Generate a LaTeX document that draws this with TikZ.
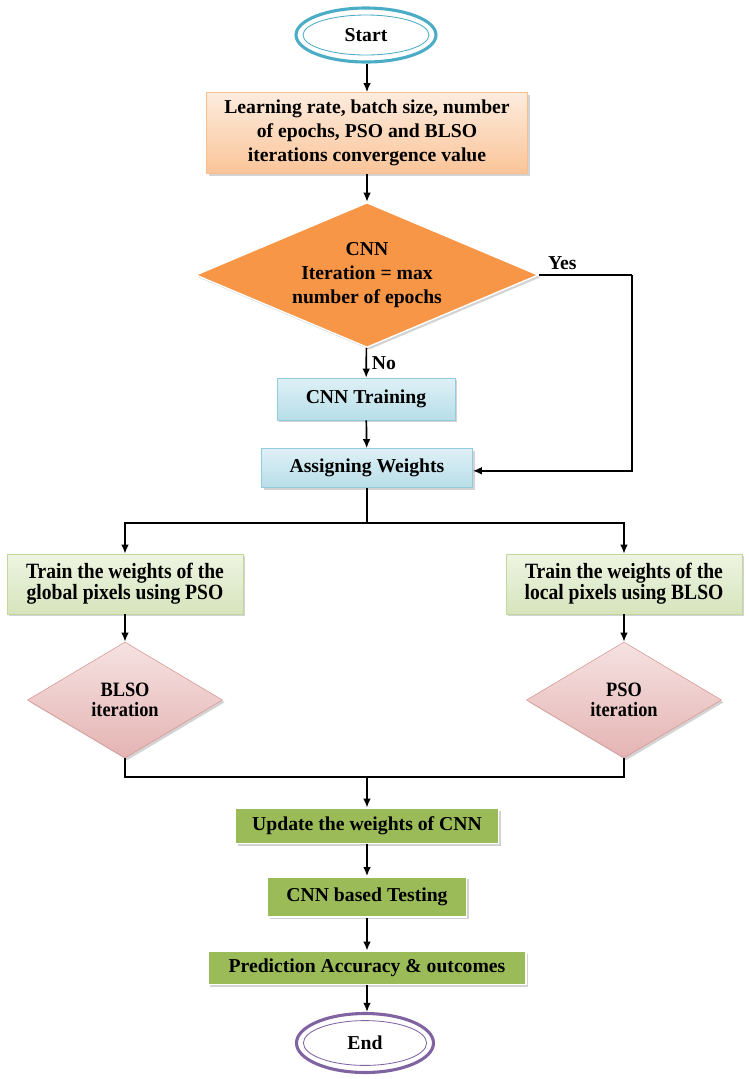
\documentclass[tikz,border=0pt]{standalone}
\usepackage{fontspec}
\setmainfont{Liberation Serif}
\newfontfamily\narrowserif[FakeStretch=0.9]{Liberation Serif}
\usepackage{xcolor}
\usepackage{tikz}
\usetikzlibrary{shapes.geometric, arrows.meta, positioning, shadows}

\definecolor{startc}{RGB}{75,172,198}
\definecolor{endc}{RGB}{128,100,162}
\definecolor{peachtop}{RGB}{253,236,222}
\definecolor{peachbot}{RGB}{250,196,152}
\definecolor{peachline}{RGB}{248,190,142}
\definecolor{checkc}{RGB}{247,150,70}
\definecolor{bluetop}{RGB}{222,240,246}
\definecolor{bluebot}{RGB}{183,222,232}
\definecolor{blueline}{RGB}{147,205,221}
\definecolor{lgreentop}{RGB}{238,244,226}
\definecolor{lgreenbot}{RGB}{214,228,188}
\definecolor{lgreenline}{RGB}{195,214,155}
\definecolor{pinktop}{RGB}{245,226,225}
\definecolor{pinkbot}{RGB}{228,180,179}
\definecolor{pinkline}{RGB}{217,150,148}
\definecolor{greenc}{RGB}{155,187,89}

\begin{document}
\begin{tikzpicture}[font=\fontsize{14}{17}\selectfont\bfseries, >={Latex[length=6.5pt,width=5.5pt]},
    shade/.style={drop shadow={opacity=0.35, shadow xshift=1.6pt, shadow yshift=-1.6pt}},
    terminal/.style={ellipse, draw=#1, line width=2.2pt, fill=white, inner sep=0pt},
    peachbox/.style={rectangle, draw=peachline, top color=peachtop, bottom color=peachbot, align=center, shade},
    bluebox/.style={rectangle, draw=blueline, top color=bluetop, bottom color=bluebot, align=center, shade},
    lgreenbox/.style={rectangle, draw=lgreenline, top color=lgreentop, bottom color=lgreenbot, align=center, shade, font=\fontsize{15.5}{15}\narrowserif\bfseries},
    greenbox/.style={rectangle, draw=white, line width=1.2pt, fill=greenc, align=center, shade},
    check/.style={diamond, draw=white, line width=1pt, fill=checkc, align=center, inner sep=0pt, shape aspect=2.4, shade},
    pinkcheck/.style={diamond, draw=pinkline, top color=pinktop, bottom color=pinkbot, align=center, inner sep=0pt, shape aspect=1.6, shade, font=\fontsize{14.5}{14.5}\narrowserif\bfseries},
    flow/.style={->, line width=1.2pt}]
    \useasboundingbox (0,0) rectangle (18.725,-26.975);

    % main column
    \node [terminal=startc, minimum width=3.5cm, minimum height=1.35cm] (start) at (9.15,-0.875) {Start};
    \draw [startc, line width=0.6pt] (start.center) ellipse (1.575cm and 0.5cm);
    \node [peachbox, minimum width=8.025cm, minimum height=2.025cm] (params) at (9.175,-3.325) {Learning rate, batch size, number\\of epochs, PSO and BLSO\\iterations convergence value};
    \node [check, minimum width=8.575cm, minimum height=3.625cm] (epochs) at (9.175,-6.875) {CNN\\Iteration = max\\number of epochs};
    \node [bluebox, minimum width=4.45cm, minimum height=1.05cm] (training) at (9.15,-9.975) {CNN Training};
    \node [bluebox, minimum width=5.275cm, minimum height=0.975cm] (assign) at (9.175,-11.7) {Assigning Weights};

    % two branches
    \node [lgreenbox, minimum width=5.9cm, minimum height=1.5cm] (global) at (3.125,-14.6) {Train the weights of the\\global pixels using PSO};
    \node [lgreenbox, minimum width=5.9cm, minimum height=1.5cm] (local) at (15.6,-14.6) {Train the weights of the\\local pixels using BLSO};
    \node [pinkcheck, minimum width=4.875cm, minimum height=2.9cm] (blso) at (3.125,-17.5) {BLSO\\iteration};
    \node [pinkcheck, minimum width=4.875cm, minimum height=2.9cm] (pso) at (15.6,-17.5) {PSO\\iteration};

    % testing
    \node [greenbox, minimum width=6.575cm, minimum height=0.875cm] (update) at (9.175,-20.65) {Update the weights of CNN};
    \node [greenbox, minimum width=4.975cm, minimum height=1cm] (testing) at (9.175,-22.425) {CNN based Testing};
    \node [greenbox, minimum width=7.95cm, minimum height=0.825cm] (predict) at (9.175,-24.2) {Prediction Accuracy \& outcomes};
    \node [terminal=endc, minimum width=3.425cm, minimum height=1.475cm] (end) at (9.125,-26.075) {End};
    \draw [endc, line width=0.6pt] (end.center) ellipse (1.54cm and 0.56cm);

    \coordinate (yesturn) at (15.8,-6.875);
    \coordinate (split) at (9.175,-13.075);
    \coordinate (merge) at (9.175,-19.425);

    \draw [flow] (start.south -| params.north) -- (params);
    \draw [flow] (params) -- (epochs);
    \draw [flow] (epochs) -- node[right]{No} (training);
    \draw [line width=1.2pt] (epochs.east) -- node[above, pos=0.25]{Yes} (yesturn);
    \draw [flow] (yesturn) |- ([yshift=-2pt]assign.east);
    \draw [flow] (training) -- (assign);
    \draw [line width=1.2pt] (assign) -- (split);
    \draw [flow] (split) -| (global);
    \draw [flow] (split) -| (local);
    \draw [flow] (global) -- (blso);
    \draw [flow] (local) -- (pso);
    \draw [line width=1.2pt] (blso.south) |- (merge);
    \draw [line width=1.2pt] (pso.south) |- (merge);
    \draw [flow] (merge) -- (update);
    \draw [flow] (update) -- (testing);
    \draw [flow] (testing) -- (predict);
    \draw [flow] (predict) -- (end.north -| predict.south);
\end{tikzpicture}
\end{document}
